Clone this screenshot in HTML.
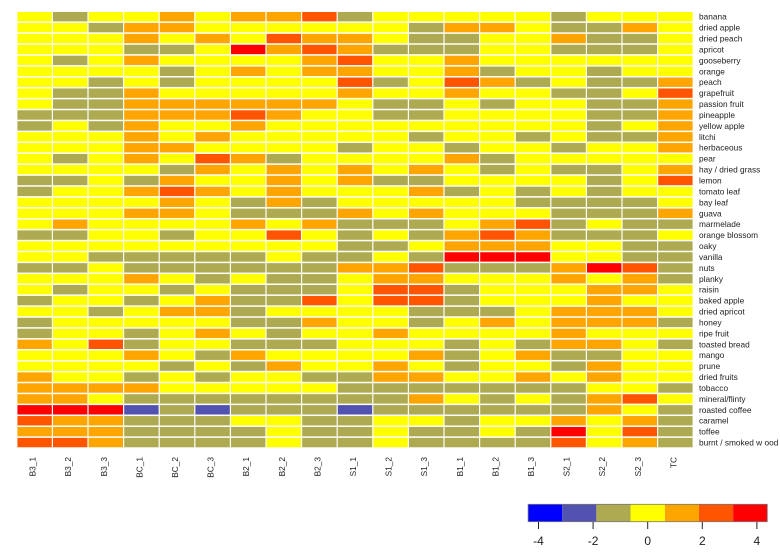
<!DOCTYPE html>
<html><head><meta charset="utf-8"><style>
html,body{margin:0;padding:0;background:#fff;}
svg{display:block;font-family:"Liberation Sans",sans-serif;}
</style></head><body>
<svg id="chart" width="780" height="558" viewBox="0 0 780 558"></svg>
<script>
const columns=["B3_1","B3_2","B3_3","BC_1","BC_2","BC_3","B2_1","B2_2","B2_3","S1_1","S1_2","S1_3","B1_1","B1_2","B1_3","S2_1","S2_2","S2_3","TC"];
const rowsLabels=["banana","dried apple","dried peach","apricot","gooseberry","orange","peach","grapefruit","passion fruit","pineapple","yellow  apple","litchi","herbaceous","pear","hay / dried grass","lemon","tomato leaf","bay leaf","guava","marmelade","orange blossom","oaky","vanilla","nuts","planky","raisin","baked apple","dried apricot","honey","ripe fruit","toasted bread","mango","prune","dried fruits","tobacco","mineral/flinty","roasted coffee","caramel","toffee","burnt / smoked w ood"];
const values=[
[0,-1.3,0,0,1.3,0,1.3,1.3,2.5,-1.3,0,0,0,0,0,-1.3,0,0,0],
[0,0,-1.3,1.3,1.3,0,0,0,0,0,0,-1.3,1.3,1.3,0,-1.3,-1.3,1.3,0],
[0,0,0,1.3,0,1.3,0,2.5,1.3,1.3,0,-1.3,-1.3,0,0,1.3,-1.3,-1.3,0],
[0,0,0,-1.3,-1.3,0,3.8,1.3,2.5,1.3,-1.3,-1.3,-1.3,0,0,-1.3,-1.3,-1.3,0],
[0,-1.3,0,1.3,0,0,0,0,1.3,2.5,0,0,1.3,0,0,0,0,0,0],
[0,0,0,0,-1.3,0,1.3,0,1.3,1.3,0,0,1.3,-1.3,0,0,-1.3,0,0],
[0,0,-1.3,0,-1.3,0,0,0,0,2.5,-1.3,0,2.5,1.3,-1.3,0,-1.3,-1.3,1.3],
[0,-1.3,-1.3,1.3,0,0,0,0,0,1.3,0,0,1.3,0,0,-1.3,-1.3,0,2.5],
[0,-1.3,-1.3,1.3,1.3,1.3,1.3,1.3,1.3,0,-1.3,-1.3,0,-1.3,0,0,-1.3,-1.3,1.3],
[-1.3,-1.3,-1.3,1.3,1.3,1.3,2.5,1.3,0,0,-1.3,-1.3,0,0,0,0,-1.3,-1.3,1.3],
[-1.3,0,-1.3,1.3,0,0,1.3,0,0,0,0,0,0,0,0,0,-1.3,0,1.3],
[0,0,0,1.3,0,1.3,0,0,0,0,0,-1.3,0,0,-1.3,0,-1.3,-1.3,1.3],
[0,0,0,1.3,1.3,0,0,0,0,-1.3,0,0,-1.3,0,0,-1.3,0,0,1.3],
[0,-1.3,0,1.3,0,2.5,1.3,-1.3,0,0,0,0,1.3,-1.3,0,0,0,0,0],
[0,0,0,0,-1.3,1.3,0,1.3,0,1.3,0,1.3,0,-1.3,0,-1.3,-1.3,0,1.3],
[-1.3,-1.3,0,-1.3,1.3,0,0,1.3,0,1.3,-1.3,-1.3,0,0,0,0,-1.3,0,2.5],
[-1.3,0,0,1.3,2.5,1.3,0,1.3,0,0,0,1.3,-1.3,0,-1.3,0,-1.3,0,0],
[0,0,0,0,1.3,0,-1.3,1.3,-1.3,0,0,0,0,0,-1.3,-1.3,-1.3,-1.3,0],
[0,0,0,1.3,1.3,0,-1.3,-1.3,-1.3,1.3,0,1.3,0,0,0,-1.3,-1.3,-1.3,1.3],
[0,1.3,0,0,0,0,1.3,0,1.3,-1.3,-1.3,-1.3,0,1.3,2.5,-1.3,0,-1.3,-1.3],
[-1.3,-1.3,0,0,-1.3,0,0,2.5,0,-1.3,0,-1.3,1.3,2.5,1.3,-1.3,-1.3,-1.3,0],
[0,0,0,0,0,0,0,0,0,-1.3,-1.3,0,1.3,1.3,1.3,0,0,-1.3,-1.3],
[0,0,-1.3,-1.3,-1.3,-1.3,-1.3,0,-1.3,-1.3,0,-1.3,3.8,3.8,3.8,0,0,-1.3,-1.3],
[-1.3,-1.3,0,-1.3,-1.3,-1.3,-1.3,-1.3,-1.3,1.3,1.3,2.5,-1.3,-1.3,-1.3,1.3,3.8,2.5,-1.3],
[0,0,0,1.3,0,-1.3,0,-1.3,-1.3,0,1.3,1.3,0,0,0,1.3,0,1.3,-1.3],
[0,-1.3,0,0,-1.3,0,-1.3,-1.3,-1.3,0,2.5,2.5,-1.3,0,0,0,1.3,1.3,0],
[-1.3,0,0,-1.3,0,1.3,-1.3,-1.3,2.5,0,2.5,2.5,-1.3,0,0,0,1.3,0,0],
[0,0,-1.3,0,1.3,1.3,-1.3,0,0,0,0,-1.3,-1.3,-1.3,0,1.3,1.3,1.3,0],
[-1.3,0,0,0,0,0,-1.3,-1.3,1.3,0,0,-1.3,0,1.3,0,1.3,1.3,1.3,-1.3],
[-1.3,0,0,-1.3,0,1.3,0,-1.3,0,0,1.3,0,0,0,0,1.3,0,0,0],
[1.3,0,2.5,-1.3,0,0,-1.3,-1.3,-1.3,0,0,0,-1.3,0,-1.3,1.3,1.3,0,-1.3],
[0,0,0,1.3,0,-1.3,1.3,0,0,0,0,1.3,-1.3,0,1.3,-1.3,-1.3,0,0],
[0,0,0,0,-1.3,0,-1.3,1.3,0,0,1.3,0,-1.3,0,0,-1.3,1.3,0,0],
[1.3,0,0,-1.3,0,-1.3,0,0,-1.3,-1.3,1.3,1.3,0,0,1.3,0,1.3,0,0],
[1.3,1.3,1.3,1.3,0,0,0,0,0,-1.3,-1.3,-1.3,-1.3,-1.3,-1.3,-1.3,0,0,-1.3],
[1.3,1.3,0,-1.3,-1.3,-1.3,-1.3,-1.3,-1.3,-1.3,-1.3,1.3,0,-1.3,0,-1.3,1.3,2.5,0],
[3.8,3.8,3.8,-2.5,-1.3,-2.5,-1.3,-1.3,-1.3,-2.5,-1.3,-1.3,-1.3,-1.3,-1.3,-1.3,1.3,0,-1.3],
[2.5,1.3,1.3,-1.3,-1.3,-1.3,0,0,-1.3,-1.3,0,0,-1.3,0,0,1.3,0,1.3,-1.3],
[1.3,1.3,1.3,-1.3,-1.3,-1.3,-1.3,0,-1.3,-1.3,0,-1.3,-1.3,0,-1.3,3.8,0,2.5,-1.3],
[2.5,2.5,1.3,-1.3,-1.3,-1.3,-1.3,0,-1.3,-1.3,0,-1.3,-1.3,-1.3,-1.3,2.5,0,1.3,-1.3]
];
const legendTicks=[-4,-2,0,2,4];
const palette=["#0000ff","#5252b0","#aeaa52","#ffff00","#ffa500","#ff5500","#ff0000"];
const breaks=[-4.38,-3.13,-1.88,-0.63,0.63,1.88,3.13,4.38];

const NS="http://www.w3.org/2000/svg";
const svg=document.getElementById('chart');
function mk(tag,attrs,parent){const e=document.createElementNS(NS,tag);for(const k in attrs)e.setAttribute(k,attrs[k]);(parent||svg).appendChild(e);return e;}
function colorFor(v){for(let i=0;i<palette.length;i++){if(v<breaks[i+1])return palette[i];}return palette[palette.length-1];}
const x0=17.4,colPitch=35.6,cellW=34.4,y0=12,rowPitch=10.92,cellH=9.4;
const xScale=i=>x0+i*colPitch;
const yScale=j=>y0+j*rowPitch;

const grid=mk('g',{});


values.forEach((row,j)=>{row.forEach((v,i)=>{
  const r=mk('rect',{x:xScale(i),y:yScale(j),width:cellW,height:cellH,fill:colorFor(v)},grid);
  
  
});});

const rl=mk('g',{'font-size':'8.3','fill':'#222'});


rowsLabels.forEach((t,j)=>{
  const e=mk('text',{x:699,y:yScale(j)+cellH/2+3},rl);e.textContent=t;
  
  
});
const cl=mk('g',{'font-size':'8.3','fill':'#222','text-anchor':'end'});


columns.forEach((t,i)=>{
  const cx=xScale(i)+cellW/2+1,cy=457;
  const e=mk('text',{x:cx,y:cy,transform:'rotate(-90 '+cx+' '+cy+')'},cl);e.textContent=t;
  
  
});

const lg=mk('g',{});


const lx=v=>647.7+v*27.3;
palette.forEach((c,i)=>{
  const r=mk('rect',{x:lx(breaks[i]),y:504.3,width:lx(breaks[i+1])-lx(breaks[i]),height:17.4,fill:c},lg);
  
  
});
mk('rect',{x:lx(breaks[0]),y:504.3,width:lx(breaks[7])-lx(breaks[0]),height:17.4,fill:'none',stroke:'#777','stroke-width':0.8},lg);
legendTicks.forEach(t=>{
  mk('line',{x1:lx(t),x2:lx(t),y1:522,y2:529,stroke:'#222','stroke-width':1},lg);
  const e=mk('text',{x:lx(t),y:545,'font-size':'12','text-anchor':'middle',fill:'#222'},lg);
  e.textContent=t;
  
  
});
</script>
</body></html>
